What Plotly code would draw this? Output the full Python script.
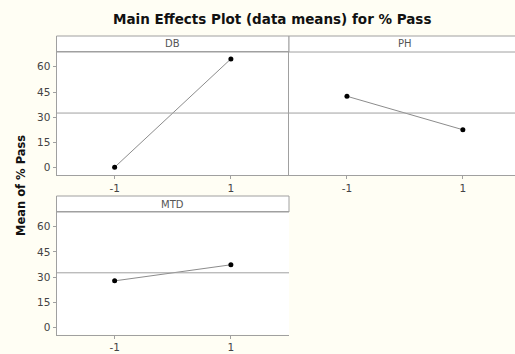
import plotly.graph_objects as go

# ---- data ----
levels = [-1, 1]
level_labels = ["-1", "1"]
factors = ["DB", "PH", "MTD"]
db_means = [0.3, 64.7]
ph_means = [42.5, 22.6]
mtd_means = [27.7, 37.3]
y_ticks = [0, 15, 30, 45, 60]

series = [db_means, ph_means, mtd_means]
grand_mean = sum(db_means + ph_means + mtd_means) / 6.0

W, H = 515, 354
def px(x):
    return x / W
def py(y):
    return 1 - y / H

BG = "#fffef4"
BORDER = "#a0a0a0"
TICKC = "#444444"
FONT = "DejaVu Sans"

# panel geometry (pixels)
panels = [
    dict(x0=56.5, x1=289, top=36, strip=52, bot=175, xr=[-2, 2], showy=True, mirror=True),
    dict(x0=289, x1=515, top=36, strip=52, bot=175, xr=[-2, 1.9], showy=False, mirror=False),
    dict(x0=56.5, x1=289, top=196, strip=212, bot=334.5, xr=[-2, 2], showy=True, mirror=True),
]

fig = go.Figure()
layout = dict(
    width=W, height=H,
    margin=dict(l=0, r=0, t=0, b=0),
    paper_bgcolor=BG, plot_bgcolor="white",
    showlegend=False,
    font=dict(family=FONT, color=TICKC, size=10),
)
shapes = []
annotations = []

for i, (p, name, vals) in enumerate(zip(panels, factors, series)):
    n = "" if i == 0 else str(i + 1)
    xa = "x" + n
    ya = "y" + n
    fig.add_trace(go.Scatter(
        x=levels, y=vals, xaxis=xa, yaxis=ya, mode="lines+markers",
        line=dict(color="#8c8c8c", width=1),
        marker=dict(color="black", size=5),
        hoverinfo="skip",
    ))
    layout["xaxis" + n] = dict(
        domain=[px(p["x0"]), px(p["x1"])], anchor=ya, range=p["xr"],
        tickvals=levels, ticktext=level_labels, ticks="outside", ticklen=3,
        tickcolor=BORDER, showgrid=False, zeroline=False,
        showline=True, linecolor=BORDER, linewidth=1, mirror=p["mirror"],
        tickfont=dict(size=10.5, color=TICKC, family=FONT),
    )
    layout["yaxis" + n] = dict(
        domain=[py(p["bot"]), py(p["strip"])], anchor=xa, range=[-4.3, 68.8],
        tickvals=y_ticks if p["showy"] else [],
        ticks="outside" if p["showy"] else "", ticklen=3, tickcolor=BORDER,
        showticklabels=p["showy"], showgrid=False, zeroline=False,
        showline=True, linecolor=BORDER, linewidth=1, mirror=False,
        tickfont=dict(size=10.5, color=TICKC, family=FONT),
    )
    # reference line at grand mean
    shapes.append(dict(type="line", xref=xa + " domain", yref=ya,
                       x0=0, x1=1, y0=grand_mean, y1=grand_mean,
                       line=dict(color=BORDER, width=1)))
    # strip header
    shapes.append(dict(type="rect", xref="paper", yref="paper",
                       x0=px(p["x0"]), x1=px(p["x1"]) + (0 if p["mirror"] else 0.01),
                       y0=py(p["strip"]), y1=py(p["top"]),
                       fillcolor="white", line=dict(color=BORDER, width=1), layer="below"))
    cx = (p["x0"] + p["x1"]) / 2 if p["mirror"] else (p["x0"] + 521) / 2
    annotations.append(dict(text=name, xref="paper", yref="paper",
                            x=px(cx), y=py((p["top"] + p["strip"]) / 2),
                            xanchor="center", yanchor="middle",
                            showarrow=False, font=dict(size=10, color="#555555", family=FONT)))

annotations.append(dict(text="<b>Main Effects Plot (data means) for % Pass</b>",
                        xref="paper", yref="paper", x=px(272), y=py(18.5),
                        xanchor="center", yanchor="middle",
                        showarrow=False, font=dict(size=13.5, color="#111111", family=FONT)))
annotations.append(dict(text="<b>Mean of % Pass</b>", xref="paper", yref="paper",
                        x=px(21), y=py(186), textangle=-90, showarrow=False,
                        xanchor="center", yanchor="middle",
                        font=dict(size=11.5, color="#111111", family=FONT)))

layout["shapes"] = shapes
layout["annotations"] = annotations
fig.update_layout(**layout)
fig.write_html("out.html")
